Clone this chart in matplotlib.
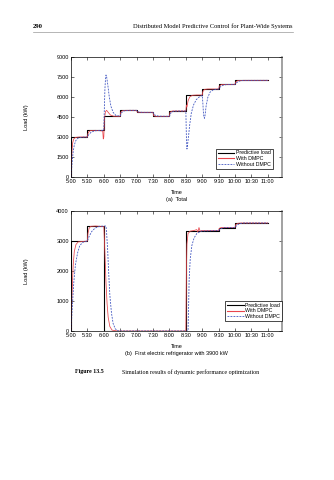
import matplotlib
matplotlib.use("Agg")
import matplotlib.pyplot as plt
from matplotlib.lines import Line2D

plt.rcParams['font.family'] = ['Liberation Sans', 'DejaVu Sans']

# tick labels on the time axis
time_ticks = ["5:00", "5:30", "6:00", "6:30", "7:00", "7:30", "8:00", "8:30",
              "9:00", "9:30", "10:00", "10:30", "11:00"]

# (a) Total -- predictive load (step, value holds until next time)
total_pred_t = ["5:00", "5:00", "5:30", "6:00", "6:30", "7:00", "7:30", "8:00",
                "8:30", "9:00", "9:30", "10:00", "11:00"]
total_pred_v = [0, 3000, 3500, 4550, 5000, 4850, 4550, 4950, 6150, 6600, 6950, 7250, 7250]

# (a) Total -- with DMPC
total_dmpc_t = ["5:00", "5:01", "5:02", "5:03", "5:05", "5:08", "5:15", "5:30", "5:31", "5:33",
                "5:36", "5:45", "5:58", "5:59", "6:00", "6:01", "6:03", "6:05", "6:08", "6:12",
                "6:18", "6:30", "6:31", "6:34", "6:40", "7:00", "7:01", "7:05", "7:30", "7:31",
                "7:35", "8:00", "8:01", "8:05", "8:30", "8:31", "8:32", "8:34", "8:37", "8:42",
                "8:50", "9:00", "9:01", "9:04", "9:10", "9:30", "9:31", "9:35", "10:00", "10:01",
                "10:05", "10:15", "11:00"]
total_dmpc_v = [0, 1300, 2100, 2550, 2850, 2970, 3000, 3000, 3250, 3420,
                3490, 3500, 3450, 2850, 3000, 4300, 4900, 5000, 4850, 4650,
                4560, 4550, 4850, 4970, 5000, 5000, 4870, 4850, 4850, 4600,
                4550, 4550, 4850, 4950, 4950, 5400, 5250, 5700, 6000, 6130,
                6150, 6150, 6400, 6570, 6600, 6600, 6800, 6930, 6950, 7120,
                7230, 7250, 7250]

# (a) Total -- without DMPC
total_nodmpc_t = ["5:00", "5:02", "5:04", "5:06", "5:09", "5:13", "5:20", "5:30", "5:32", "5:36",
                  "5:42", "5:50", "6:00", "6:01", "6:02", "6:03", "6:04", "6:05", "6:07", "6:10",
                  "6:13", "6:17", "6:22", "6:30", "6:32", "6:36", "6:45", "7:00", "7:03", "7:10",
                  "7:30", "7:33", "7:40", "8:00", "8:03", "8:08", "8:30", "8:31", "8:32", "8:33",
                  "8:35", "8:37", "8:40", "8:44", "8:49", "8:55", "9:00", "9:01", "9:02", "9:03",
                  "9:04", "9:05", "9:07", "9:10", "9:14", "9:20", "9:30", "9:33", "9:38", "9:45",
                  "10:00", "10:03", "10:08", "10:15", "11:00"]
total_nodmpc_v = [0, 1100, 1900, 2400, 2750, 2920, 2990, 3000, 3150, 3330,
                  3450, 3495, 3500, 5200, 6600, 7300, 7650, 7550, 7000, 6000,
                  5300, 4850, 4620, 4560, 4800, 4950, 5000, 5000, 4880, 4850,
                  4850, 4650, 4560, 4550, 4830, 4940, 4950, 3000, 2100, 2400,
                  3100, 3900, 4800, 5400, 5800, 6020, 6120, 5600, 4900, 4500,
                  4400, 4600, 5300, 5950, 6350, 6540, 6600, 6760, 6880, 6940,
                  6950, 7080, 7200, 7245, 7250]

# (b) First electric refrigerator -- predictive load
fr_pred_t = ["5:00", "5:00", "5:30", "6:00", "8:30", "9:30", "10:00", "11:00"]
fr_pred_v = [0, 3000, 3500, 0, 3350, 3450, 3600, 3600]

# (b) with DMPC
fr_dmpc_t = ["5:00", "5:01", "5:02", "5:04", "5:06", "5:09", "5:13", "5:30", "5:31", "5:33",
             "5:36", "5:45", "6:00", "6:02", "6:04", "6:06", "6:08", "6:11", "6:15", "6:25",
             "8:30", "8:31", "8:32", "8:34", "8:38", "8:45", "8:50", "8:52", "8:54", "8:56",
             "9:00", "9:30", "9:31", "9:35", "10:00", "10:01", "10:05", "10:10", "11:00"]
fr_dmpc_v = [0, 700, 1300, 2200, 2650, 2880, 2970, 3000, 3250, 3420,
             3490, 3500, 3480, 2600, 1600, 900, 450, 150, 30, 0,
             0, 2000, 2900, 3250, 3330, 3350, 3380, 3300, 3450, 3330,
             3350, 3350, 3420, 3450, 3450, 3540, 3590, 3600, 3600]

# (b) without DMPC
fr_nodmpc_t = ["5:00", "5:02", "5:05", "5:08", "5:12", "5:16", "5:22", "5:30", "5:33", "5:38",
               "5:44", "5:52", "6:04", "6:05", "6:07", "6:09", "6:11", "6:14", "6:17", "6:21",
               "6:27", "8:34", "8:35", "8:36", "8:38", "8:41", "8:45", "8:50", "8:58", "9:30",
               "9:33", "9:38", "9:45", "10:00", "10:03", "10:08", "10:15", "11:00"]
fr_nodmpc_v = [0, 700, 1600, 2200, 2600, 2850, 2960, 3000, 3150, 3320,
               3430, 3490, 3500, 3300, 2700, 1900, 1200, 600, 250, 70,
               0, 0, 800, 1700, 2400, 2850, 3100, 3250, 3330, 3350,
               3400, 3440, 3450, 3450, 3520, 3580, 3600, 3600]


def hm(s):
    h, m = s.split(":")
    return int(h) + int(m) / 60.0


def hours(lst):
    return [hm(s) for s in lst]


def draw_panel(ax, pred, dmpc, nodmpc, yticks, legend_anchor):
    ax.plot(hours(pred[0]), pred[1], color='black', lw=0.8, drawstyle='steps-post')
    ax.plot(hours(dmpc[0]), dmpc[1], color='#e8454c', lw=0.55)
    ax.plot(hours(nodmpc[0]), nodmpc[1], color='#4257c2', lw=0.6, ls=(0, (2.2, 1.4)))
    ax.set_xlim(5.0, 11.43)
    ax.set_ylim(yticks[0], yticks[-1])
    ax.set_xticks(hours(time_ticks))
    ax.set_xticklabels(time_ticks)
    ax.set_yticks(yticks)
    ax.tick_params(direction='in', length=2, width=0.4, labelsize=4, pad=1.5,
                   top=True, right=True)
    for sp in ax.spines.values():
        sp.set_linewidth(0.5)
    ax.spines['right'].set_linewidth(1.1)
    ax.spines['right'].set_color('#888888')
    ax.set_xlabel("Time", fontsize=4, labelpad=4)
    ax.set_ylabel("Load (kW)", fontsize=4)
    ax.yaxis.set_label_coords(-0.2, 0.5)
    handles = [Line2D([], [], color='black', lw=0.8),
               Line2D([], [], color='#e8454c', lw=0.8),
               Line2D([], [], color='#4257c2', lw=0.6, ls=(0, (2.2, 1.4)))]
    leg = ax.legend(handles, ["Predictive load", "With DMPC", "Without DMPC"],
                    loc='lower right', bbox_to_anchor=legend_anchor, fontsize=3.8,
                    frameon=True, fancybox=False, edgecolor='black', framealpha=1,
                    handlelength=3.2, handletextpad=0.3, borderpad=0.3,
                    labelspacing=0.15, borderaxespad=0)
    leg.get_frame().set_linewidth(0.5)


fig = plt.figure(figsize=(3.34, 4.80), dpi=100)

ax1 = fig.add_axes([0.2126, 0.63125, 0.6317, 0.25])
draw_panel(ax1, (total_pred_t, total_pred_v), (total_dmpc_t, total_dmpc_v),
           (total_nodmpc_t, total_nodmpc_v), [0, 1500, 3000, 4500, 6000, 7500, 9000],
           (0.955, 0.07))

ax2 = fig.add_axes([0.2126, 0.3104, 0.6317, 0.25])
draw_panel(ax2, (fr_pred_t, fr_pred_v), (fr_dmpc_t, fr_dmpc_v),
           (fr_nodmpc_t, fr_nodmpc_v), [0, 1000, 2000, 3000, 4000],
           (0.998, 0.085))

# page header and captions
serif = ['Liberation Serif', 'DejaVu Serif']
fig.text(0.099, 0.9458, "290", family=serif, fontsize=4.8, fontweight='bold',
         ha='left', va='center')
fig.text(0.877, 0.9458, "Distributed Model Predictive Control for Plant-Wide Systems",
         family=serif, fontsize=4.6, ha='right', va='center')
fig.add_artist(Line2D([0.099, 0.877], [0.933, 0.933], color='#999999', lw=0.5))

fig.text(0.528, 0.585, "(a)  Total", fontsize=4, ha='center', va='center')
fig.text(0.528, 0.2625, "(b)  First electric refrigerator with 3900 kW", fontsize=4,
         ha='center', va='center')
fig.text(0.225, 0.225, "Figure 13.5", family=serif, fontsize=4.3, fontweight='bold',
         ha='left', va='center')
fig.text(0.364, 0.225, "Simulation results of dynamic performance optimization",
         family=serif, fontsize=4.3, ha='left', va='center')

fig.savefig("out.png", dpi=100)
